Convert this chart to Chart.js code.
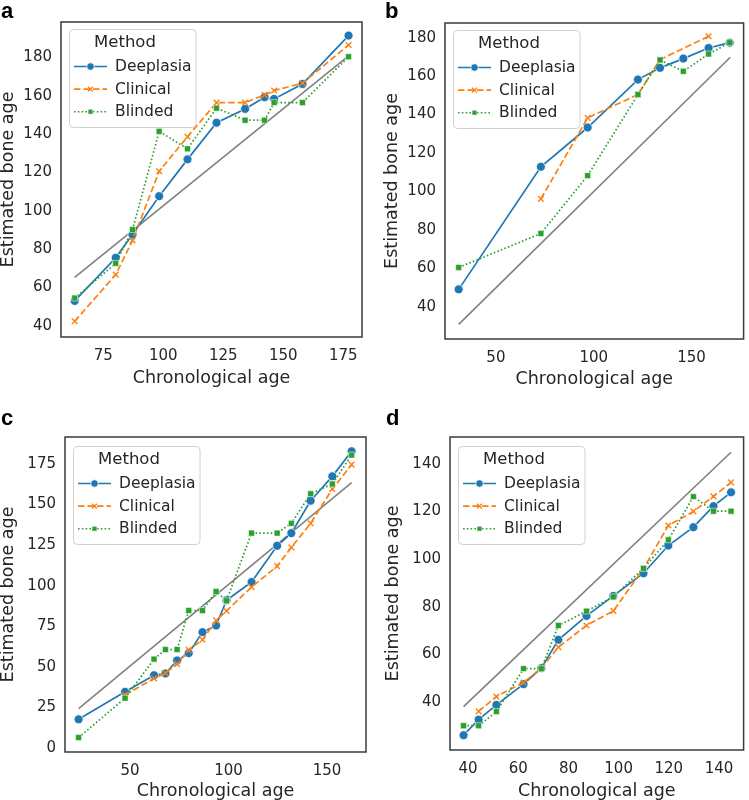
<!DOCTYPE html>
<html>
<head>
<meta charset="utf-8">
<script src="https://cdn.jsdelivr.net/npm/chart.js@4.4.1/dist/chart.umd.min.js"></script>
<style>
  body { margin: 0; background: #fff; }
  #wrap { position: relative; width: 749px; height: 800px; overflow: hidden; }
  .panel { position: absolute; }
  .tag { position: absolute; font: bold 22px "Liberation Sans", Arial, sans-serif; color: #000; line-height: 22px; }
</style>
</head>
<body>
<div id="wrap">
  <div class="panel" style="left:0;top:0"><canvas id="chart-a" width="375" height="400"></canvas></div>
  <div class="panel" style="left:375px;top:0"><canvas id="chart-b" width="374" height="400"></canvas></div>
  <div class="panel" style="left:0;top:400px"><canvas id="chart-c" width="375" height="400"></canvas></div>
  <div class="panel" style="left:375px;top:400px"><canvas id="chart-d" width="374" height="400"></canvas></div>
  <div class="tag" style="left:1px;top:0">a</div>
  <div class="tag" style="left:385px;top:0">b</div>
  <div class="tag" style="left:1px;top:407px">c</div>
  <div class="tag" style="left:386px;top:407px">d</div>
</div>
<script>
// ---- panel a ----
const ageA   = [63.1, 80.2, 87.2, 98.3, 110.1, 122.2, 134.1, 142.2, 146.2, 158.0, 177.2];
const deepA  = [53.0, 75.5, 87.6, 107.6, 126.8, 145.9, 153.1, 159.2, 158.3, 166.1, 191.3];
const clinA  = [42.4, 66.7, 84.5, 120.6, 138.6, 156.4, 156.4, 160.4, 162.7, 166.5, 186.4];
const blindA = [54.5, 72.6, 90.2, 141.4, 132.3, 153.5, 147.2, 147.2, 156.4, 156.4, 180.3];
const refXA  = [63.1, 177.2];
const refYA  = [65.3, 180.7];
const xTicksA = [75, 100, 125, 150, 175];
const yTicksA = [40, 60, 80, 100, 120, 140, 160, 180];

// ---- panel b ----
const ageB   = [31.0, 73.0, 96.9, 122.6, 133.9, 145.8, 158.7, 169.5];
const deepB  = [49.2, 112.9, 133.3, 158.2, 164.3, 169.1, 174.6, 177.4];
const clinB  = [null, 96.2, 138.3, 150.4, 168.6, null, 180.7, null];
const blindB = [60.6, 78.2, 108.3, 150.4, 168.4, 162.5, 171.5, 177.4];
const refXB  = [31.0, 169.8];
const refYB  = [31.0, 169.8];
const xTicksB = [50, 100, 150];
const yTicksB = [40, 60, 80, 100, 120, 140, 160, 180];

// ---- panel c ----
const ageC   = [23.9, 47.5, 62.2, 68.0, 73.9, 79.8, 86.8, 93.7, 99.0, 111.7, 124.7, 131.9, 141.7, 152.7, 162.5];
const deepC  = [17.8, 34.7, 44.9, 46.0, 54.0, 58.5, 71.4, 75.5, 91.0, 102.2, 124.5, 132.3, 152.2, 167.2, 182.6];
const clinC  = [null, 32.8, 42.9, 46.2, 51.7, 60.5, 66.7, 78.6, 84.5, 99.1, 112.0, 123.5, 138.3, 159.4, 174.4];
const blindC = [6.6, 30.8, 54.8, 60.7, 60.7, 84.7, 84.7, 96.4, 90.7, 132.3, 132.3, 138.3, 156.5, 162.5, 180.3];
const refXC  = [23.9, 162.5];
const refYC  = [24.4, 163.3];
const xTicksC = [50, 100, 150];
const yTicksC = [0, 25, 50, 75, 100, 125, 150, 175];

// ---- panel d ----
const ageD   = [38.2, 44.2, 51.3, 62.1, 69.2, 76.0, 87.2, 97.9, 109.9, 119.8, 129.8, 137.8, 144.8];
const deepD  = [26.2, 32.7, 38.9, 47.6, 54.3, 66.2, 76.2, 84.6, 94.1, 105.7, 113.4, 122.2, 128.0];
const clinD  = [null, 36.2, 42.4, 48.3, 54.3, 63.1, 72.2, 78.3, 96.0, 114.1, 120.0, 126.3, 132.2];
const blindD = [30.2, 30.2, 36.1, 54.1, 54.1, 72.2, 78.2, 84.2, 96.1, 108.1, 126.2, 120.1, 120.1];
const refXD  = [38.2, 144.8];
const refYD  = [38.2, 144.8];
const xTicksD = [40, 60, 80, 100, 120, 140];
const yTicksD = [40, 60, 80, 100, 120, 140];

const FONT = "'DejaVu Sans', Verdana, sans-serif";
const TEXT = '#262626';

const STYLES = {
  Deeplasia: { borderColor: '#1f77b4', backgroundColor: '#1f77b4', borderDash: [],
               pointStyle: 'circle', pointRadius: 4.5, pointBorderColor: '#fff', pointBorderWidth: 0.8, order: 3 },
  Clinical:  { borderColor: '#ff7f0e', backgroundColor: '#ff7f0e', borderDash: [6.5, 3],
               pointStyle: 'crossRot', pointRadius: 4, pointBorderColor: '#ff7f0e', pointBorderWidth: 1.4, order: 2 },
  Blinded:   { borderColor: '#2ca02c', backgroundColor: '#2ca02c', borderDash: [1.6, 2.2],
               pointStyle: 'rect', pointRadius: 4.2, pointBorderColor: '#fff', pointBorderWidth: 0.5, order: 1 },
};

// frame around the plotting area (seaborn "white" style)
const framePlugin = {
  id: 'frame',
  afterDraw(chart) {
    const { ctx, chartArea: a } = chart;
    ctx.save();
    ctx.strokeStyle = '#3a3a3a';
    ctx.lineWidth = 1.5;
    ctx.strokeRect(a.left, a.top, a.right - a.left, a.bottom - a.top);
    ctx.restore();
  }
};

// matplotlib-like legend box with title, drawn inside the plot
const methodLegend = {
  id: 'methodLegend',
  afterDatasetsDraw(chart, args, opts) {
    const { ctx, chartArea: a } = chart;
    const names = ['Deeplasia', 'Clinical', 'Blinded'];
    ctx.save();
    ctx.font = `15.5px ${FONT}`;
    const tw = Math.max(...names.map(n => ctx.measureText(n).width));
    const bx = a.left + 8, by = a.top + (opts.offsetY || 7);
    const bw = 46 + tw + 4, bh = 98;

    ctx.beginPath();
    ctx.roundRect(bx + 0.5, by + 0.5, bw, bh, 4);
    ctx.fillStyle = 'rgba(255,255,255,0.85)';
    ctx.fill();
    ctx.strokeStyle = '#d0d0d0';
    ctx.lineWidth = 1;
    ctx.stroke();

    ctx.fillStyle = TEXT;
    ctx.textBaseline = 'middle';
    ctx.textAlign = 'center';
    ctx.font = `16.5px ${FONT}`;
    ctx.fillText('Method', bx + 56, by + 13.5);

    ctx.textAlign = 'left';
    ctx.font = `15.5px ${FONT}`;
    names.forEach((n, i) => {
      const s = STYLES[n];
      const y = by + 37.5 + i * 22.6;
      const mx = bx + 21.5;
      ctx.save();
      ctx.strokeStyle = s.borderColor;
      ctx.lineWidth = 1.6;
      ctx.setLineDash(s.borderDash);
      ctx.beginPath();
      ctx.moveTo(bx + 5, y);
      ctx.lineTo(bx + 38, y);
      ctx.stroke();
      ctx.restore();

      ctx.save();
      ctx.fillStyle = s.backgroundColor;
      ctx.strokeStyle = s.pointBorderColor;
      ctx.lineWidth = s.pointBorderWidth;
      ctx.beginPath();
      if (s.pointStyle === 'circle') {
        ctx.arc(mx, y, 3.8, 0, Math.PI * 2);
        ctx.fill(); ctx.stroke();
      } else if (s.pointStyle === 'rect') {
        const h = 2.4;
        ctx.rect(mx - h, y - h, 2 * h, 2 * h);
        ctx.fill(); ctx.stroke();
      } else {
        const h = 2.4;
        ctx.lineWidth = 1.3;
        ctx.moveTo(mx - h, y - h); ctx.lineTo(mx + h, y + h);
        ctx.moveTo(mx + h, y - h); ctx.lineTo(mx - h, y + h);
        ctx.stroke();
      }
      ctx.restore();
      ctx.fillStyle = TEXT;
      ctx.fillText(n, bx + 46, y + 0.5);
    });
    ctx.restore();
  }
};

function series(label, xs, ys) {
  return {
    label,
    data: xs.map((x, i) => ({ x, y: ys[i] })),
    borderWidth: 1.7,
    spanGaps: true,
    tension: 0,
    ...STYLES[label],
  };
}

function build(id, p) {
  return new Chart(document.getElementById(id), {
    type: 'line',
    data: {
      datasets: [
        series('Deeplasia', p.age, p.deep),
        series('Clinical', p.age, p.clin),
        series('Blinded', p.age, p.blind),
        {
          label: 'ref',
          data: p.refX.map((x, i) => ({ x, y: p.refY[i] })),
          borderColor: '#808080', borderWidth: 1.6, pointRadius: 0, order: 4,
        },
      ],
    },
    options: {
      responsive: false,
      animation: false,
      devicePixelRatio: 1,
      layout: { padding: { top: p.top, right: p.padR, left: 0, bottom: 0 } },
      plugins: {
        legend: { display: false },
        tooltip: { enabled: false },
        methodLegend: { offsetY: p.legendY },
      },
      scales: {
        x: {
          type: 'linear', min: p.xMin, max: p.xMax,
          grid: { display: false, drawTicks: false }, border: { display: false },
          ticks: { color: TEXT, font: { family: FONT, size: 15 }, padding: 10 },
          title: { display: true, text: 'Chronological age', color: TEXT,
                   font: { family: FONT, size: 17.5 }, padding: { top: 0, bottom: p.xTitlePad } },
          afterBuildTicks: s => { s.ticks = p.xTicks.map(v => ({ value: v })); },
          afterFit: s => { s.height = p.xHeight; s.paddingLeft = 0; s.paddingRight = 0; },
        },
        y: {
          type: 'linear', min: p.yMin, max: p.yMax,
          grid: { display: false, drawTicks: false }, border: { display: false },
          ticks: { color: TEXT, font: { family: FONT, size: 15 }, padding: 9 },
          title: { display: true, text: 'Estimated bone age', color: TEXT,
                   font: { family: FONT, size: 17.5 }, padding: { top: p.yTitlePad, bottom: 0 } },
          afterBuildTicks: s => { s.ticks = p.yTicks.map(v => ({ value: v })); },
          afterFit: s => { s.width = p.yWidth; s.paddingTop = 0; s.paddingBottom = 0; },
        },
      },
    },
    plugins: [framePlugin, methodLegend],
  });
}

build('chart-a', {
  age: ageA, deep: deepA, clin: clinA, blind: blindA, refX: refXA, refY: refYA,
  xTicks: xTicksA, yTicks: yTicksA, xMin: 57.4, xMax: 182.8, yMin: 34.2, yMax: 198.4,
  top: 22, padR: 13, xHeight: 63, yWidth: 61, xTitlePad: 11, yTitlePad: -2, legendY: 7,
});
build('chart-b', {
  age: ageB, deep: deepB, clin: clinB, blind: blindB, refX: refXB, refY: refYB,
  xTicks: xTicksB, yTicks: yTicksB, xMin: 24.0, xMax: 176.6, yMin: 23.4, yMax: 187.6,
  top: 23, padR: 1, xHeight: 61, yWidth: 70, xTitlePad: 10, yTitlePad: 6.5, legendY: 7,
});
build('chart-c', {
  age: ageC, deep: deepC, clin: clinC, blind: blindC, refX: refXC, refY: refYC,
  xTicks: xTicksC, yTicks: yTicksC, xMin: 17.0, xMax: 169.8, yMin: -2.3, yMax: 191.4,
  top: 37, padR: 9, xHeight: 48, yWidth: 65, xTitlePad: -2, yTitlePad: -2, legendY: 9,
});
build('chart-d', {
  age: ageD, deep: deepD, clin: clinD, blind: blindD, refX: refXD, refY: refYD,
  xTicks: xTicksD, yTicks: yTicksD, xMin: 32.8, xMax: 149.8, yMin: 20.0, yMax: 151.2,
  top: 37, padR: 1, xHeight: 50, yWidth: 75, xTitlePad: -2, yTitlePad: 8, legendY: 9,
});
</script>
</body>
</html>
